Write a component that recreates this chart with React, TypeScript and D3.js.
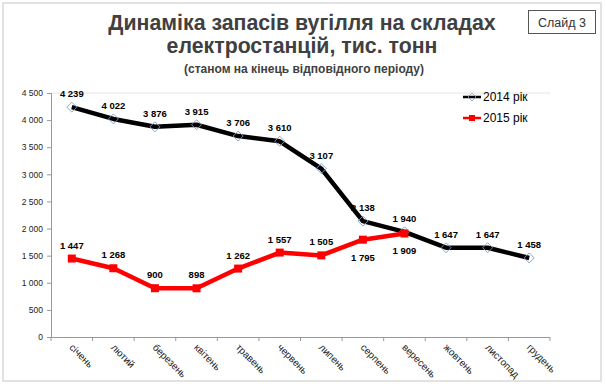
import React, { useEffect, useRef } from 'react';
import * as d3 from 'd3';

const months = ['січень', 'лютий', 'березень', 'квітень', 'травень', 'червень', 'липень', 'серпень', 'вересень', 'жовтень', 'листопад', 'грудень'];
const values2014 = [4239, 4022, 3876, 3915, 3706, 3610, 3107, 2138, 1940, 1647, 1647, 1458];
const values2015 = [1447, 1268, 900, 898, 1262, 1557, 1505, 1795, 1909];
// labels below the point for these 2015 months
const below2015 = ['серпень', 'вересень'];
const yTicks = [0, 500, 1000, 1500, 2000, 2500, 3000, 3500, 4000, 4500];

const fmt = (v: number) => d3.format(',')(v).replace(',', ' ');

const App = () => {
  const ref = useRef<SVGSVGElement>(null);

  useEffect(() => {
    document.body.style.margin = '0';
    const svg = d3.select(ref.current);
    svg.selectAll('*').remove();

    const font = 'Liberation Sans, Arial, sans-serif';

    svg.append('rect').attr('width', 606).attr('height', 386).attr('fill', '#fff');
    svg.append('rect')
      .attr('x', 3).attr('y', 3).attr('width', 598).attr('height', 378)
      .attr('fill', 'none').attr('stroke', '#e2e2e2').attr('stroke-width', 2);

    // titles
    svg.append('text').attr('x', 302).attr('y', 30).attr('text-anchor', 'middle')
      .attr('font-family', font).attr('font-weight', 'bold').attr('font-size', 21.3)
      .attr('fill', '#404040').text('Динаміка запасів вугілля на складах');
    svg.append('text').attr('x', 302).attr('y', 53).attr('text-anchor', 'middle')
      .attr('font-family', font).attr('font-weight', 'bold').attr('font-size', 21.3)
      .attr('fill', '#404040').text('електростанцій, тис. тонн');
    svg.append('text').attr('x', 304).attr('y', 73).attr('text-anchor', 'middle')
      .attr('font-family', font).attr('font-weight', 'bold').attr('font-size', 12)
      .attr('fill', '#404040').text('(станом на кінець відповідного періоду)');

    // slide box
    svg.append('rect').attr('x', 528.5).attr('y', 10.5).attr('width', 67).attr('height', 23)
      .attr('fill', '#fff').attr('stroke', '#555');
    svg.append('text').attr('x', 562).attr('y', 27).attr('text-anchor', 'middle')
      .attr('font-family', font).attr('font-size', 12.5).attr('fill', '#333').text('Слайд 3');

    const left = 51, right = 550, top = 93, bottom = 337;
    const x = d3.scaleBand().domain(months).range([left, right]);
    const y = d3.scaleLinear().domain([0, 4500]).range([bottom, top]);
    const cx = (m: string) => (x(m) as number) + x.bandwidth() / 2;

    // top gridline
    svg.append('line').attr('x1', left).attr('x2', right).attr('y1', y(4500)).attr('y2', y(4500))
      .attr('stroke', '#e4e4e4');

    // y axis
    const ya = svg.append('g').attr('transform', `translate(${left},0)`)
      .call(d3.axisLeft(y).tickValues(yTicks).tickSize(4).tickPadding(4).tickFormat(d => fmt(+d)));
    ya.selectAll('text').attr('font-family', font).attr('font-size', 8.5).attr('fill', '#222');
    ya.selectAll('.domain, .tick line').attr('stroke', '#999');

    // x axis
    svg.append('line').attr('x1', left).attr('x2', right).attr('y1', bottom + 0.5).attr('y2', bottom + 0.5)
      .attr('stroke', '#999');
    const bounds = d3.range(months.length + 1).map(i => left + i * x.bandwidth());
    svg.selectAll('.xt').data(bounds).enter().append('line')
      .attr('x1', d => d).attr('x2', d => d).attr('y1', bottom).attr('y2', bottom + 4)
      .attr('stroke', '#999');
    svg.selectAll('.xl').data(months).enter().append('text')
      .attr('transform', d => `translate(${cx(d) - 3},${bottom + 11}) rotate(45)`)
      .attr('font-family', font).attr('font-size', 10).attr('fill', '#222')
      .text(d => d);

    const line = d3.line<number>().x((_, i) => cx(months[i])).y(d => y(d));

    // 2014
    svg.append('path').datum(values2014).attr('d', line).attr('fill', 'none')
      .attr('stroke', '#000').attr('stroke-width', 4.5).attr('stroke-linejoin', 'round');
    svg.selectAll('.m14').data(values2014).enter().append('path')
      .attr('d', 'M0,-5L5,0L0,5L-5,0Z')
      .attr('transform', (d, i) => `translate(${cx(months[i])},${y(d)})`)
      .attr('fill', 'none').attr('stroke', '#7f9cc0').attr('stroke-width', 0.9);

    // 2015
    svg.append('path').datum(values2015).attr('d', line).attr('fill', 'none')
      .attr('stroke', '#f00').attr('stroke-width', 4.5).attr('stroke-linejoin', 'round');
    svg.selectAll('.m15').data(values2015).enter().append('rect')
      .attr('x', (d, i) => cx(months[i]) - 4).attr('y', d => y(d) - 4)
      .attr('width', 8).attr('height', 8).attr('fill', '#f00');

    // labels
    svg.selectAll('.l14').data(values2014).enter().append('text')
      .attr('x', (d, i) => cx(months[i])).attr('y', d => y(d) - 10)
      .attr('text-anchor', 'middle').attr('font-family', font).attr('font-weight', 'bold')
      .attr('font-size', 9.5).attr('fill', '#000').text(d => fmt(d));
    svg.selectAll('.l15').data(values2015).enter().append('text')
      .attr('x', (d, i) => cx(months[i]))
      .attr('y', (d, i) => below2015.includes(months[i]) ? y(d) + 21 : y(d) - 10)
      .attr('text-anchor', 'middle').attr('font-family', font).attr('font-weight', 'bold')
      .attr('font-size', 9.5).attr('fill', '#000').text(d => fmt(d));

    // legend
    const lg = svg.append('g').attr('transform', 'translate(463,97)');
    lg.append('line').attr('x1', 0).attr('x2', 18).attr('y1', 0).attr('y2', 0).attr('stroke', '#000').attr('stroke-width', 2.5);
    lg.append('path').attr('d', 'M9,-4L13,0L9,4L5,0Z').attr('fill', 'none').attr('stroke', '#7f9cc0').attr('stroke-width', 0.8);
    lg.append('text').attr('x', 20).attr('y', 4).attr('font-family', font).attr('font-size', 12).attr('fill', '#000').text('2014 рік');
    lg.append('line').attr('x1', 0).attr('x2', 18).attr('y1', 21).attr('y2', 21).attr('stroke', '#f00').attr('stroke-width', 2.5);
    lg.append('rect').attr('x', 6).attr('y', 18).attr('width', 6).attr('height', 6).attr('fill', '#f00');
    lg.append('text').attr('x', 20).attr('y', 25).attr('font-family', font).attr('font-size', 12).attr('fill', '#000').text('2015 рік');
  }, []);

  return <svg ref={ref} width={606} height={386} style={{ display: 'block' }}></svg>;
};

export default App;
